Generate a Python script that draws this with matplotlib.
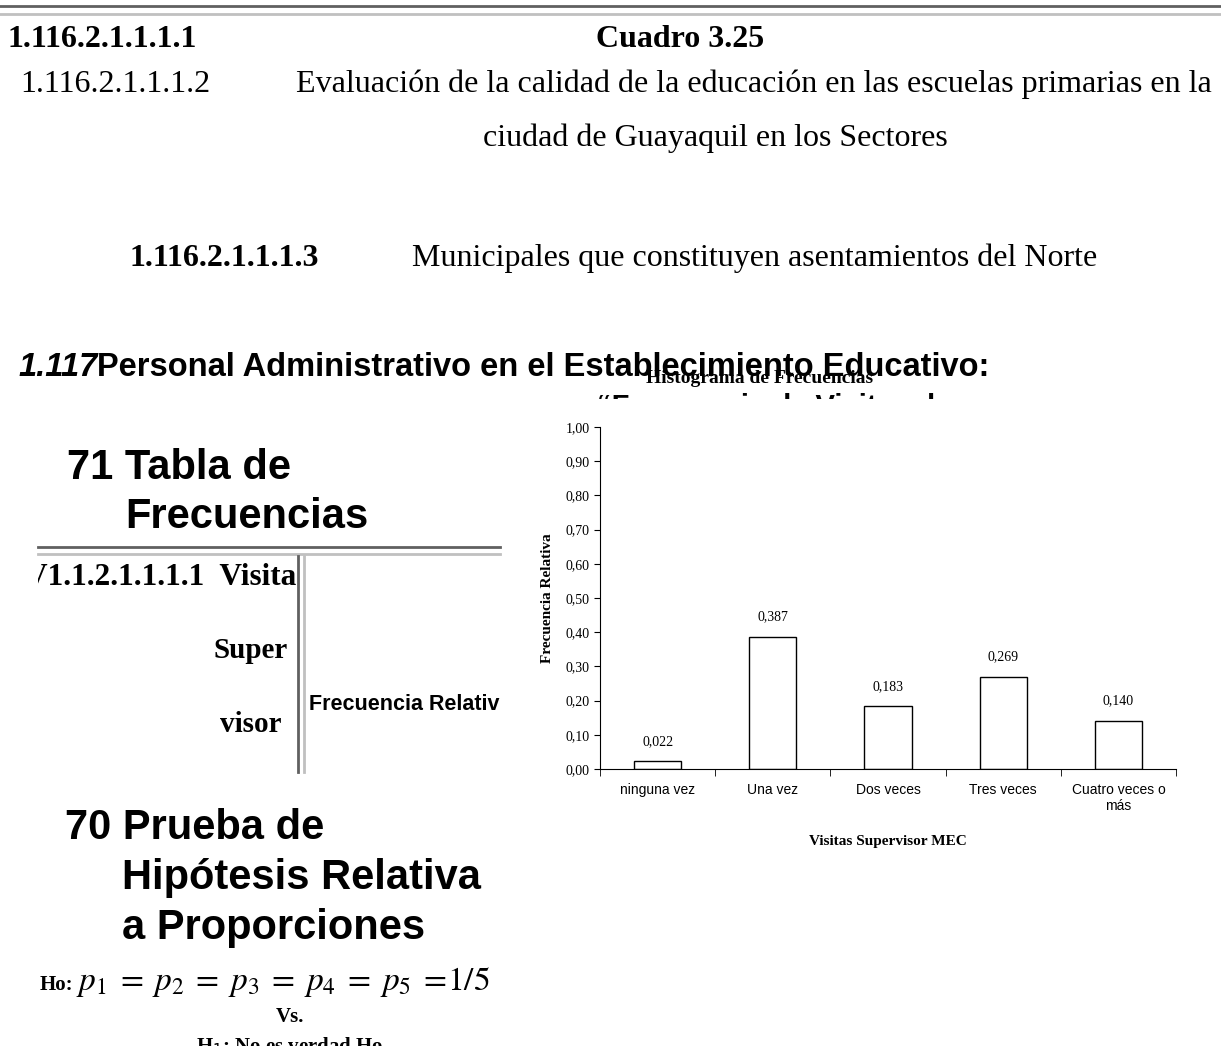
import numpy as np
import matplotlib.pyplot as plt
from matplotlib.transforms import Bbox, TransformedBbox

# data
categorias = ['ninguna vez', 'Una vez', 'Dos veces', 'Tres veces', 'Cuatro veces o\nmás']
frec_relativa = [0.022, 0.387, 0.183, 0.269, 0.140]
yticks = [0.0, 0.1, 0.2, 0.3, 0.4, 0.5, 0.6, 0.7, 0.8, 0.9, 1.0]

W, H = 1221, 1046
SERIF = ['Liberation Serif', 'DejaVu Serif']
SANS = ['Liberation Sans', 'DejaVu Sans']

fig = plt.figure(figsize=(W / 100, H / 100), dpi=100)

# a "page" axes in pixel coordinates for the document text
page = fig.add_axes([0, 0, 1, 1])
page.set_xlim(0, W)
page.set_ylim(H, 0)
page.axis('off')


def txt(x, y, s, size, family=SERIF, weight='normal', style='normal',
        ha='left', clip=None, **kw):
    t = page.text(x, y, s, fontsize=size, family=family, weight=weight,
                  style=style, ha=ha, va='baseline', **kw)
    if clip is not None:
        x0, y0, x1, y1 = clip
        bb = TransformedBbox(Bbox([[x0, y0], [x1, y1]]), page.transData)
        t.set_clip_box(bb)
        t.set_clip_on(True)
    return t


# header rules
page.plot([0, W], [6, 6], color='#606060', lw=2)
page.plot([0, W], [14, 14], color='#c0c0c0', lw=2)

txt(8, 47, '1.116.2.1.1.1.1', 23, weight='bold')
txt(680, 47, 'Cuadro 3.25', 23, weight='bold', ha='center')
txt(20, 92, '1.116.2.1.1.1.2', 23)
txt(296, 92, 'Evaluación de la calidad de la educación en las escuelas primarias en la', 23)
txt(715, 146, 'ciudad de Guayaquil en los Sectores', 23, ha='center')
txt(130, 266, '1.116.2.1.1.1.3', 23, weight='bold')
txt(412, 266, 'Municipales que constituyen asentamientos del Norte', 23)

# section heading
t1 = txt(18, 376, '1.117', 23.5, family=SANS, weight='bold', style='italic')
fig.canvas.draw()
bb = t1.get_window_extent()
x_after = page.transData.inverted().transform((bb.x1, bb.y0))[0]
txt(x_after, 376, 'Personal Administrativo en el Establecimiento Educativo:', 23.5,
    family=SANS, weight='bold')
txt(760, 383, 'Histograma de Frecuencias', 14, weight='bold', ha='center')
txt(597, 415, '“Frecuencia de Visitas del Supervisor”', 21, family=SANS,
    weight='bold', clip=(590, 391, 940, 399))

# left block
txt(67, 479, '71 Tabla de', 30, family=SANS, weight='bold')
txt(125, 528, 'Frecuencias', 30, family=SANS, weight='bold')
page.plot([38, 500], [547, 547], color='#606060', lw=2)
page.plot([38, 500], [554, 554], color='#c0c0c0', lw=2)
page.plot([298, 298], [556, 772], color='#606060', lw=2)
page.plot([304, 304], [556, 772], color='#c0c0c0', lw=2)
txt(296, 585, 'V1.1.2.1.1.1.1  Visita', 22.5, weight='bold', ha='right',
    clip=(38, 550, 300, 600))
txt(288, 658, 'Super', 21, weight='bold', ha='right')
txt(282, 732, 'visor', 21, weight='bold', ha='right')
txt(309, 710, 'Frecuencia Relativa', 15.5, family=SANS, weight='bold',
    clip=(300, 680, 500, 720))

txt(65, 839, '70 Prueba de', 30, family=SANS, weight='bold')
txt(122, 889, 'Hipótesis Relativa', 30, family=SANS, weight='bold')
txt(122, 939, 'a Proporciones', 30, family=SANS, weight='bold')
txt(40, 990, 'Ho:', 15, weight='bold')
txt(76, 990, r'$p_1\;=\;p_2\;=\;p_3\;=\;p_4\;=\;p_5\;=\!1/5$', 24,
    family=SERIF, math_fontfamily='stix')
txt(290, 1022, 'Vs.', 15, weight='bold', ha='center')
txt(290, 1052, 'H$_1$: No es verdad Ho', 15, weight='bold', ha='center',
    clip=(0, 1030, 600, 1046))

# histogram
ax = fig.add_axes([600 / W, 1 - 769 / H, 576 / W, (769 - 427) / H])
x = np.arange(len(categorias))
bars = ax.bar(x, frec_relativa, width=0.41, color='white', edgecolor='black', lw=1)
for xi, v in zip(x, frec_relativa):
    ax.text(xi, v + 0.04, f'{v:.3f}'.replace('.', ','), ha='center', va='bottom',
            fontsize=10, family=SERIF)
ax.set_xlim(-0.5, len(categorias) - 0.5)
ax.set_ylim(0, 1.0)
ax.set_yticks(yticks)
ax.set_yticklabels([f'{v:.2f}'.replace('.', ',') for v in yticks], family=SERIF, fontsize=10)
ax.set_xticks(x)
ax.set_xticklabels(categorias, family=SANS, fontsize=10)
ax.set_xticks(np.arange(len(categorias) + 1) - 0.5, minor=True)
ax.tick_params(axis='x', which='major', length=0, pad=10)
ax.tick_params(axis='x', which='minor', length=5, direction='out')
ax.tick_params(axis='y', length=4, direction='out')
for s in ['top', 'right']:
    ax.spines[s].set_visible(False)
ax.set_ylabel('Frecuencia Relativa', family=SERIF, weight='bold', fontsize=11, labelpad=8)
ax.set_xlabel('Visitas Supervisor MEC', family=SERIF, weight='bold', fontsize=11, labelpad=16)

fig.savefig('out.png', dpi=100)
